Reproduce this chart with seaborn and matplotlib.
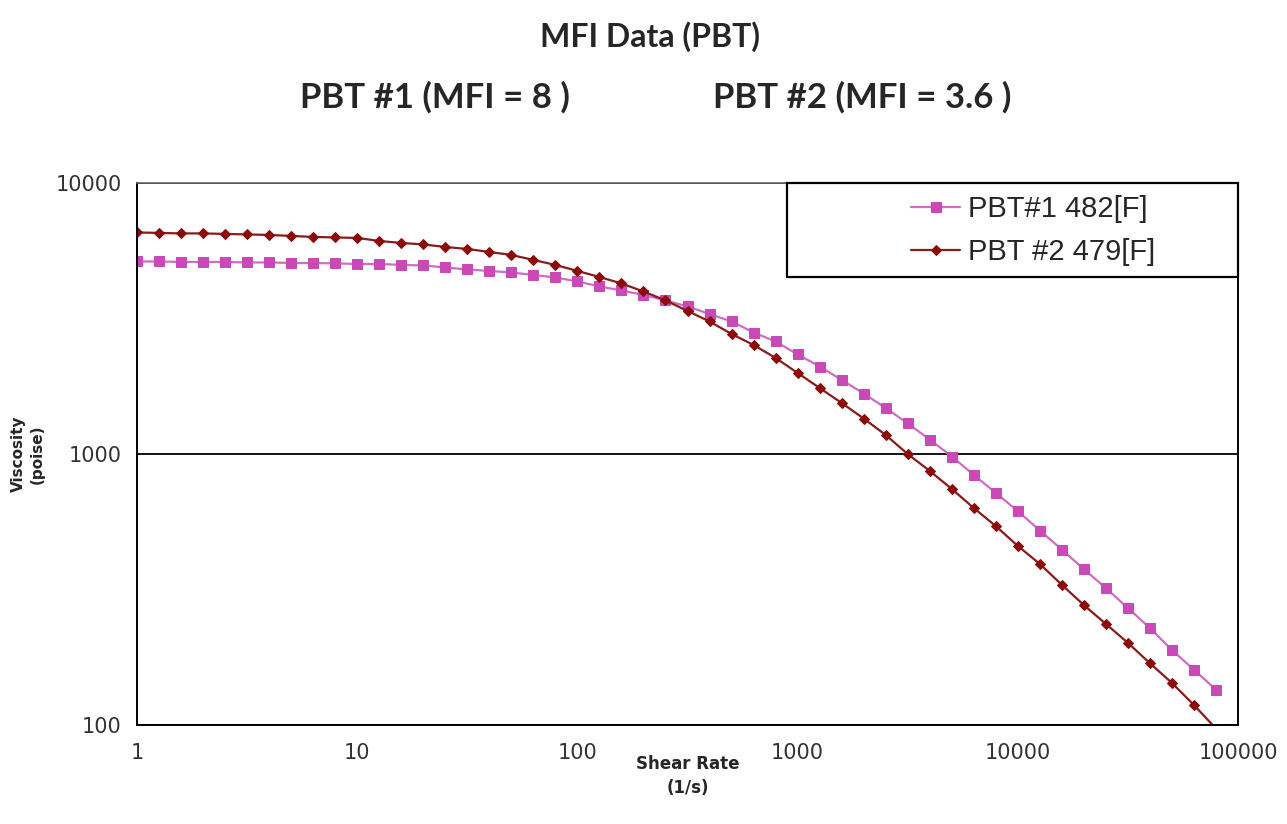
import pandas as pd
import matplotlib
matplotlib.use("Agg")
import matplotlib.pyplot as plt
import matplotlib.patches as mpatches
import seaborn as sns

# Shear rate points (1/s), 10 per decade
shear_rate = [1, 1.259, 1.585, 1.995, 2.512, 3.162, 3.981, 5.012, 6.310, 7.943,
              10, 12.59, 15.85, 19.95, 25.12, 31.62, 39.81, 50.12, 63.10, 79.43,
              100, 125.9, 158.5, 199.5, 251.2, 316.2, 398.1, 501.2, 631.0, 794.3,
              1000, 1259, 1585, 1995, 2512, 3162, 3981, 5012, 6310, 7943,
              10000, 12589, 15849, 19953, 25119, 31623, 39811, 50119, 63096, 79433]

# Viscosity (poise)
pbt1_visc = [5132, 5132, 5111, 5111, 5111, 5089, 5089, 5068, 5068, 5047,
             5025, 5025, 4983, 4962, 4878, 4796, 4735, 4675, 4576, 4480,
             4331, 4151, 4012, 3862, 3685, 3502, 3286, 3083, 2807, 2601,
             2330, 2103, 1876, 1672, 1478, 1296, 1131, 979, 837, 718,
             616, 522, 444, 376, 320, 270, 228, 189, 160, 135]

pbt2_visc = [6567, 6540, 6513, 6513, 6485, 6457, 6429, 6375, 6321, 6294,
             6267, 6110, 6006, 5931, 5805, 5708, 5564, 5424, 5199, 4983,
             4735, 4499, 4258, 3978, 3685, 3371, 3083, 2772, 2525, 2261,
             1991, 1752, 1543, 1352, 1175, 1000, 866, 743, 632, 542,
             458, 393, 329, 277, 236, 201, 169, 143, 118.5, 97]

series_names = ["PBT#1 482[F]", "PBT #2 479[F]"]
x_ticks = [1, 10, 100, 1000, 10000, 100000]
y_ticks = [100, 1000, 10000]

df1 = pd.DataFrame({"rate": shear_rate, "visc": pbt1_visc})
df2 = pd.DataFrame({"rate": shear_rate, "visc": pbt2_visc})

sns.set_style("white")
narrow = ["Liberation Sans Narrow", "DejaVu Sans"]

fig = plt.figure(figsize=(12.87, 8.24), dpi=100)
ax = fig.add_axes([0.1064, 0.120, 0.8556, 0.658])

sns.lineplot(data=df1, x="rate", y="visc", ax=ax, color="#D06CC4", linewidth=1.6,
             marker="s", markersize=7, markerfacecolor="#C94AB6",
             markeredgecolor="#C94AB6", label=series_names[0])
sns.lineplot(data=df2, x="rate", y="visc", ax=ax, color="#8B1A1A", linewidth=1.6,
             marker="D", markersize=5.5, markerfacecolor="#8B0A0A",
             markeredgecolor="#8B0A0A", label=series_names[1])

ax.set_xscale("log")
ax.set_yscale("log")
ax.set_xlim(1, 100000)
ax.set_ylim(100, 10000)
ax.set_xticks(x_ticks)
ax.set_xticklabels([str(t) for t in x_ticks], family=narrow, fontsize=15, color="#333333")
ax.set_yticks(y_ticks)
ax.set_yticklabels([str(t) for t in y_ticks], family=narrow, fontsize=15, color="#333333")
ax.minorticks_off()
ax.tick_params(axis="both", direction="out", length=7, width=1.2, color="black", pad=6)
ax.tick_params(axis="y", pad=4)

# horizontal gridlines only
ax.yaxis.grid(True, color="black", linewidth=1.3)
ax.xaxis.grid(False)
for side in ["left", "bottom", "right"]:
    ax.spines[side].set_color("black")
    ax.spines[side].set_linewidth(1.4)
ax.spines["top"].set_color("#666666")
ax.spines["top"].set_linewidth(1.2)

ax.set_xlabel("Shear Rate\n(1/s)", family=narrow, fontsize=12, fontweight="bold",
              labelpad=-6, linespacing=1.45)
ax.set_ylabel("Viscosity\n(poise)", family=narrow, fontsize=11, fontweight="bold",
              labelpad=8, linespacing=1.3)

# legend entries without frame, box drawn separately (Excel style wide box)
leg = ax.legend(loc="center right", bbox_to_anchor=(0.935, 0.912), borderaxespad=0.0,
                frameon=False, prop={"family": "Liberation Sans", "size": 21},
                handlelength=1.7, handletextpad=0.25, labelspacing=0.5)
box = mpatches.Rectangle((0.590, 0.8266), 0.41, 0.1734, transform=ax.transAxes,
                         fill=True, facecolor="white", edgecolor="black",
                         linewidth=1.6, zorder=4, clip_on=False)
ax.add_patch(box)
leg.set_zorder(5)

title_font = ["Lato", "DejaVu Sans"]
fig.text(0.505, 0.955, "MFI Data (PBT)", ha="center", va="center",
         family=title_font, fontsize=23, fontweight="bold")
fig.text(0.338, 0.882, "PBT #1 (MFI = 8 )", ha="center", va="center",
         family=title_font, fontsize=25, fontweight="bold")
fig.text(0.670, 0.882, "PBT #2 (MFI = 3.6 )", ha="center", va="center",
         family=title_font, fontsize=25, fontweight="bold")

fig.savefig("out.png", dpi=100, facecolor="white")
